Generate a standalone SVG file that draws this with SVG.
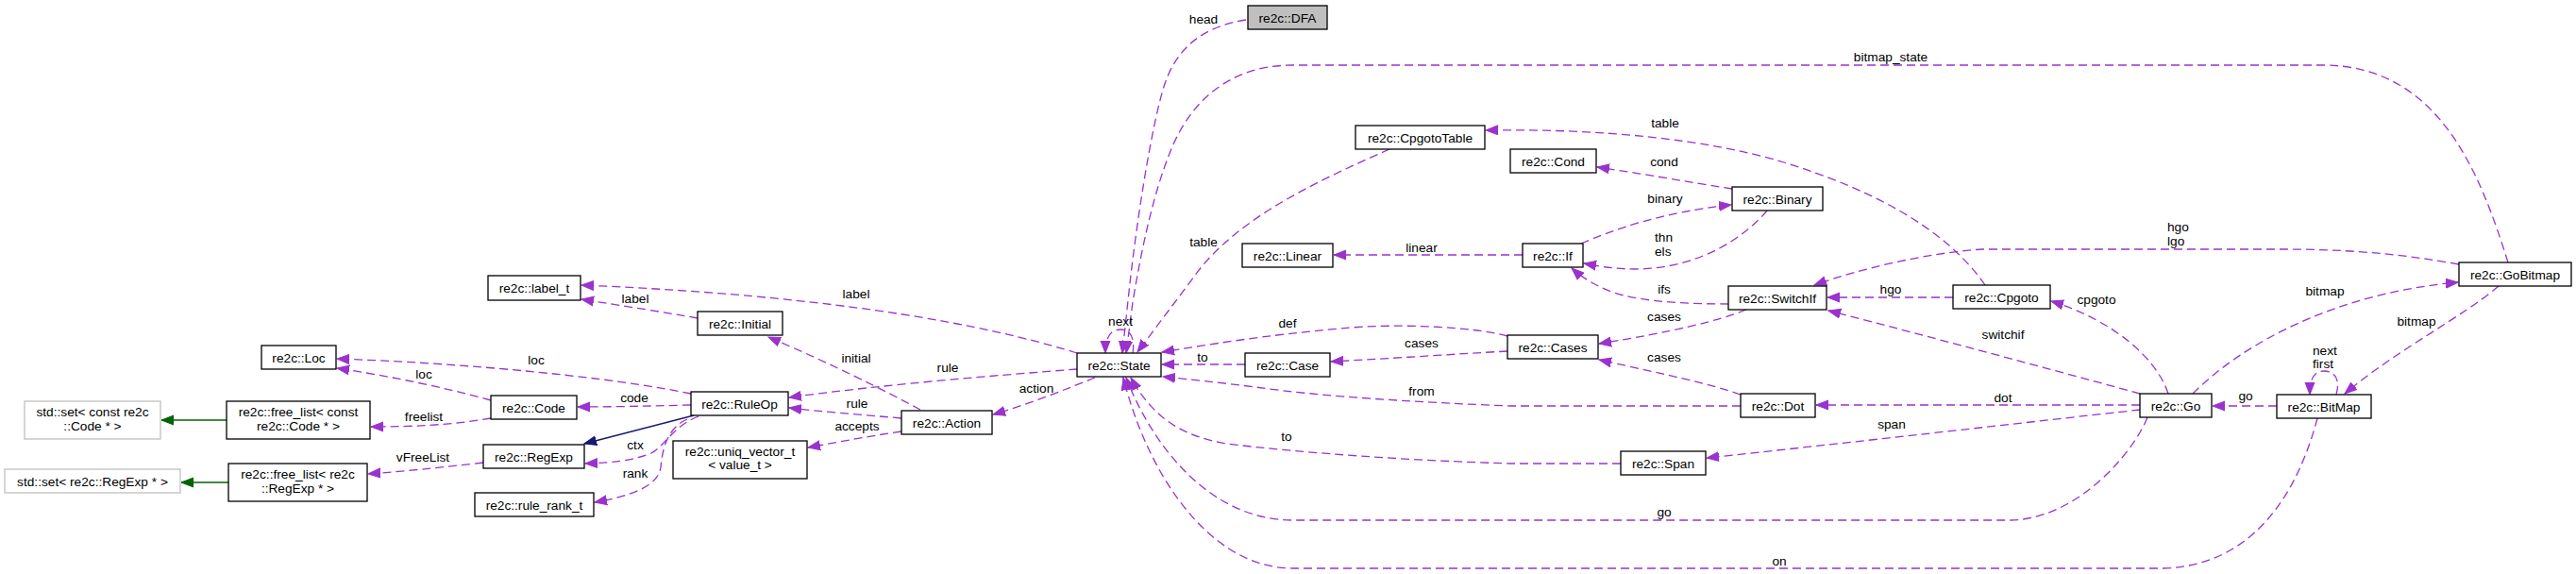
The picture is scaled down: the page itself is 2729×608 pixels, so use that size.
<svg xmlns="http://www.w3.org/2000/svg" width="2729" height="608" viewBox="0 0 2729 608">
<style>
.n rect{fill:#fff;stroke:#000;stroke-width:1.3}
.n.u rect{stroke:#bfbfbf}
.n.f rect{fill:#bfbfbf}
text{font-family:"Liberation Sans",Arial,Helvetica,sans-serif;font-size:13.7px;fill:#000}
.n text{text-anchor:middle}
.e path{fill:none;stroke:#9a32cd;stroke-width:1.3;stroke-dasharray:9,5;marker-end:url(#ap)}
.e path.g{stroke:#006400;stroke-dasharray:none;marker-end:url(#ag)}
.e path.b{stroke:#191970;stroke-dasharray:none;marker-end:url(#ab)}
.e text{text-anchor:middle}
.e text.l{text-anchor:start}
</style>
<defs>
<marker id="ap" markerUnits="userSpaceOnUse" markerWidth="15" markerHeight="12" refX="13" refY="6" orient="auto"><path d="M0,1 L13,6 L0,11 z" fill="#9a32cd" stroke="#9a32cd"/></marker>
<marker id="ag" markerUnits="userSpaceOnUse" markerWidth="15" markerHeight="12" refX="13" refY="6" orient="auto"><path d="M0,1 L13,6 L0,11 z" fill="#006400" stroke="#006400"/></marker>
<marker id="ab" markerUnits="userSpaceOnUse" markerWidth="15" markerHeight="12" refX="13" refY="6" orient="auto"><path d="M0,1 L13,6 L0,11 z" fill="#191970" stroke="#191970"/></marker>
</defs>
<rect width="2729" height="608" fill="#fff"/>
<g id="edges" class="e">
<path d="M1320,21 C1275,28 1245,50 1232,95 C1219,140 1205,230 1197,300 L1189,374"/>
<text x="1275" y="25">head</text>
<path d="M2657,278 C2625,175 2580,69 2460,69 L1370,69 C1300,69 1260,110 1240,160 C1222,205 1210,260 1200,320 L1193,374"/>
<text x="2003" y="65">bitmap_state</text>
<path d="M1200,374 C1203,356 1196,349 1187,349 C1177,349 1171,356 1171,374"/>
<text x="1187" y="345">next</text>
<path d="M1472,158 C1400,190 1310,230 1265,293 L1205,373"/>
<text x="1275" y="261">table</text>
<path d="M2103,302 C2060,240 1980,200 1890,172 C1810,148 1700,136 1574,138"/>
<text x="1764" y="135">table</text>
<path d="M1835,200 C1790,193 1740,184 1692,177"/>
<text x="1763" y="176">cond</text>
<path d="M1675,258 C1710,243 1760,225 1834,217"/>
<text x="1764" y="215">binary</text>
<path d="M1872,223 C1850,250 1800,285 1732,285 C1710,285 1695,282 1678,279"/>
<text class="l" x="1753" y="256">thn</text>
<text class="l" x="1753" y="271">els</text>
<path d="M1613,270 L1413,270"/>
<text x="1506" y="267">linear</text>
<path d="M1831,322 C1790,322 1740,320 1710,310 C1690,303 1675,293 1665,284"/>
<text x="1763" y="311">ifs</text>
<path d="M1850,328 C1820,340 1770,352 1694,364"/>
<text x="1763" y="340">cases</text>
<path d="M1844,418 C1810,406 1770,398 1694,381"/>
<text x="1763" y="383">cases</text>
<path d="M1597,372 C1540,375 1470,380 1410,383"/>
<text x="1506" y="368">cases</text>
<path d="M1597,356 C1560,346 1480,342 1420,348 C1340,355 1280,365 1231,373"/>
<text x="1364" y="347">def</text>
<path d="M1319,386 L1231,386"/>
<text x="1274" y="383">to</text>
<path d="M1844,430 L1600,430 C1500,426 1400,420 1330,410 C1290,405 1260,402 1232,399"/>
<text x="1506" y="419">from</text>
<path d="M1717,491 L1600,491 C1500,488 1380,480 1300,470 C1250,462 1220,440 1198,400"/>
<text x="1363" y="467">to</text>
<path d="M2275,442 C2260,480 2200,550 2130,551 L1370,551 C1280,551 1220,470 1193,400"/>
<text x="1763" y="547">go</text>
<path d="M2455,443 C2440,500 2400,600 2290,602 L1370,602 C1280,602 1215,500 1190,400"/>
<text x="1885" y="599">on</text>
<path d="M2267,429 L1924,429"/>
<text x="2122" y="426">dot</text>
<path d="M2267,434 C2150,447 1950,470 1808,485"/>
<text x="2004" y="454">span</text>
<path d="M2267,417 C2150,385 2000,345 1937,329"/>
<text x="2122" y="359">switchif</text>
<path d="M2297,417 C2285,380 2240,340 2173,319"/>
<text x="2221" y="322">cpgoto</text>
<path d="M2069,315 L1936,315"/>
<text x="2003" y="311">hgo</text>
<path d="M2605,280 C2540,268 2480,264 2420,264 L2100,264 C2040,268 1970,285 1922,302"/>
<text class="l" x="2296" y="245">hgo</text>
<text class="l" x="2296" y="260">lgo</text>
<path d="M2323,417 C2380,360 2480,310 2604,299"/>
<text x="2463" y="313">bitmap</text>
<path d="M2647,303 C2610,335 2540,370 2484,417"/>
<text x="2560" y="345">bitmap</text>
<path d="M2412,430 L2344,430"/>
<text x="2379" y="424">go</text>
<path d="M2475,418 C2480,400 2472,393 2462,393 C2452,393 2447,400 2447,418"/>
<text class="l" x="2450" y="376">next</text>
<text class="l" x="2450" y="390">first</text>
<path d="M1141,391 C1050,398 930,408 836,421"/>
<text x="1004" y="394">rule</text>
<path d="M955,443 C910,439 870,436 836,432"/>
<text x="908" y="432">rule</text>
<path d="M1160,400 C1130,412 1090,428 1052,439"/>
<text x="1098" y="416">action</text>
<path d="M975,434 C940,415 880,385 814,357"/>
<text x="907" y="384">initial</text>
<path d="M739,337 C700,330 660,324 616,317"/>
<text x="673" y="321">label</text>
<path d="M1141,374 C1080,355 930,315 616,302"/>
<text x="907" y="316">label</text>
<path d="M732,417 C650,400 500,385 357,380"/>
<text x="568" y="386">loc</text>
<path d="M520,424 C470,410 410,398 357,390"/>
<text x="449" y="401">loc</text>
<path d="M732,429 C690,430 650,431 612,431"/>
<text x="672" y="426">code</text>
<path d="M520,443 C480,450 440,452 393,452"/>
<text x="449" y="446">freelist</text>
<path class="g" d="M240,445 L171,445"/>
<path class="b" d="M735,440 L619,470"/>
<path d="M740,441 C712,452 705,472 690,480 C670,488 650,490 620,491"/>
<text x="673" y="476">ctx</text>
<path d="M728,444 C710,452 702,470 700,495 C697,515 670,525 630,532"/>
<text x="673" y="506">rank</text>
<path d="M512,490 C470,495 430,499 390,502"/>
<text x="448" y="489">vFreeList</text>
<path class="g" d="M242,511 L192,511"/>
<path d="M955,457 C920,462 890,468 856,474"/>
<text x="908" y="456">accepts</text>
</g>
<g id="n_dfa" class="n f"><rect x="1322" y="6" width="84" height="25"/><text x="1364" y="23.5">re2c::DFA</text></g>
<g id="n_cpgototable" class="n"><rect x="1436" y="133" width="137" height="25"/><text x="1504.5" y="150.5">re2c::CpgotoTable</text></g>
<g id="n_cond" class="n"><rect x="1600" y="158" width="91" height="25"/><text x="1645.5" y="175.5">re2c::Cond</text></g>
<g id="n_linear" class="n"><rect x="1316" y="258" width="96" height="25"/><text x="1364" y="275.5">re2c::Linear</text></g>
<g id="n_if" class="n"><rect x="1613" y="258" width="64" height="25"/><text x="1645" y="275.5">re2c::If</text></g>
<g id="n_binary" class="n"><rect x="1835" y="198" width="96" height="25"/><text x="1883" y="215.5">re2c::Binary</text></g>
<g id="n_gobitmap" class="n"><rect x="2605" y="278" width="119" height="25"/><text x="2664.5" y="295.5">re2c::GoBitmap</text></g>
<g id="n_switchif" class="n"><rect x="1831" y="303" width="104" height="25"/><text x="1883" y="320.5">re2c::SwitchIf</text></g>
<g id="n_cpgoto" class="n"><rect x="2069" y="302" width="103" height="25"/><text x="2120.5" y="319.5">re2c::Cpgoto</text></g>
<g id="n_cases" class="n"><rect x="1597" y="355" width="96" height="25"/><text x="1645" y="372.5">re2c::Cases</text></g>
<g id="n_case" class="n"><rect x="1319" y="374" width="90" height="25"/><text x="1364" y="391.5">re2c::Case</text></g>
<g id="n_state" class="n"><rect x="1141" y="374" width="89" height="25"/><text x="1185.5" y="391.5">re2c::State</text></g>
<g id="n_dot" class="n"><rect x="1844" y="417" width="79" height="25"/><text x="1883.5" y="434.5">re2c::Dot</text></g>
<g id="n_span" class="n"><rect x="1717" y="478" width="90" height="25"/><text x="1762" y="495.5">re2c::Span</text></g>
<g id="n_go" class="n"><rect x="2267" y="417" width="76" height="25"/><text x="2305" y="434.5">re2c::Go</text></g>
<g id="n_bitmap" class="n"><rect x="2412" y="418" width="100" height="25"/><text x="2462" y="435.5">re2c::BitMap</text></g>
<g id="n_label_t" class="n"><rect x="517" y="292" width="98" height="26"/><text x="566" y="310">re2c::label_t</text></g>
<g id="n_initial" class="n"><rect x="739" y="330" width="90" height="25"/><text x="784" y="347.5">re2c::Initial</text></g>
<g id="n_loc" class="n"><rect x="277" y="366" width="79" height="25"/><text x="316.5" y="383.5">re2c::Loc</text></g>
<g id="n_code" class="n"><rect x="520" y="419" width="91" height="25"/><text x="565.5" y="436.5">re2c::Code</text></g>
<g id="n_ruleop" class="n"><rect x="732" y="415" width="103" height="25"/><text x="783.5" y="432.5">re2c::RuleOp</text></g>
<g id="n_set_code" class="n u"><rect x="26" y="425" width="144" height="40"/><text x="98" y="441">std::set&lt; const re2c</text><text x="98" y="456">::Code * &gt;</text></g>
<g id="n_freelist_code" class="n"><rect x="240" y="425" width="152" height="40"/><text x="316" y="441">re2c::free_list&lt; const</text><text x="316" y="456">re2c::Code * &gt;</text></g>
<g id="n_regexp" class="n"><rect x="512" y="471" width="107" height="25"/><text x="565.5" y="488.5">re2c::RegExp</text></g>
<g id="n_set_regexp" class="n u"><rect x="5" y="497" width="186" height="25"/><text x="98" y="514.5">std::set&lt; re2c::RegExp * &gt;</text></g>
<g id="n_freelist_regexp" class="n"><rect x="242" y="491" width="147" height="40"/><text x="315.5" y="507">re2c::free_list&lt; re2c</text><text x="315.5" y="522">::RegExp * &gt;</text></g>
<g id="n_rule_rank" class="n"><rect x="503" y="522" width="126" height="25"/><text x="566" y="539.5">re2c::rule_rank_t</text></g>
<g id="n_uniq" class="n"><rect x="713" y="467" width="142" height="40"/><text x="784" y="483">re2c::uniq_vector_t</text><text x="784" y="497">&lt; value_t &gt;</text></g>
<g id="n_action" class="n"><rect x="955" y="435" width="96" height="25"/><text x="1003" y="452.5">re2c::Action</text></g>
</svg>
